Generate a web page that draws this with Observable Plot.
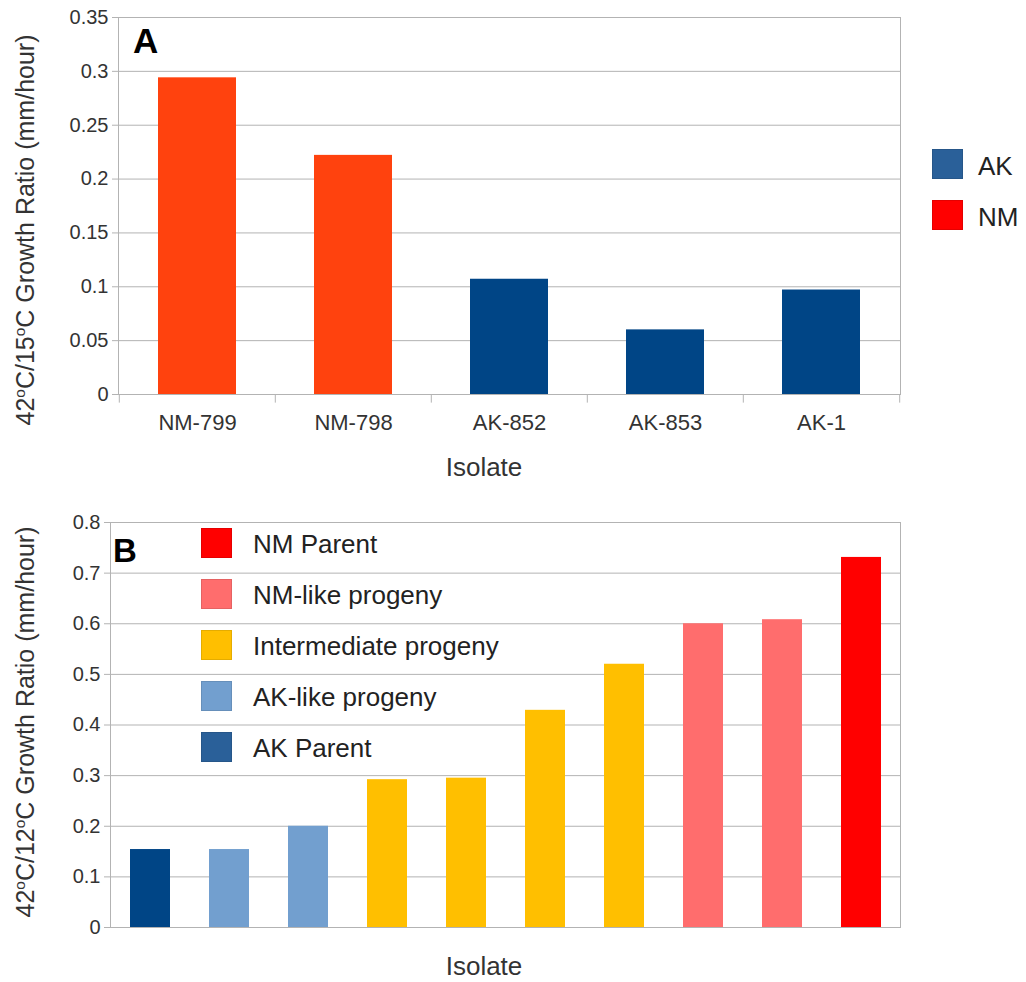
<!DOCTYPE html>
<html>
<head>
<meta charset="utf-8">
<script src="https://cdn.jsdelivr.net/npm/d3@7"></script>
<script src="https://cdn.jsdelivr.net/npm/@observablehq/plot@0.6"></script>
<style>
  html, body { margin: 0; padding: 0; background: #ffffff; }
  #root { position: relative; width: 1026px; height: 982px; overflow: hidden; font-family: "Liberation Sans", Arial, sans-serif; color: #333; }
  .abs { position: absolute; white-space: nowrap; line-height: 1; }
  .ytitle { position: absolute; white-space: nowrap; line-height: 1; font-size: 25px; color: #333; transform: translate(-50%, -50%) rotate(-90deg); }
  .deg { font-size: 0.62em; position: relative; top: -0.55em; }
  .sw { position: absolute; width: 31px; height: 30px; box-sizing: border-box; }
</style>
</head>
<body>
<div id="root"></div>
<script>
// ---------- Panel A data ----------
const isolatesA = ["NM-799", "NM-798", "AK-852", "AK-853", "AK-1"];
const originA = ["NM", "NM", "AK", "AK", "AK"];
const ratioA = [0.294, 0.222, 0.107, 0.060, 0.097];
const yTicksA = [0, 0.05, 0.1, 0.15, 0.2, 0.25, 0.3, 0.35];
const groupsA = ["AK", "NM"];
const barColorsA = ["#004586", "#ff420e"];
const legendColorsA = ["#2a6099", "#ff0000"];

// ---------- Panel B data ----------
const isolatesB = ["1", "2", "3", "4", "5", "6", "7", "8", "9", "10"];
const groupB = ["AK Parent", "AK-like progeny", "AK-like progeny", "Intermediate progeny", "Intermediate progeny",
                "Intermediate progeny", "Intermediate progeny", "NM-like progeny", "NM-like progeny", "NM Parent"];
const ratioB = [0.154, 0.154, 0.200, 0.292, 0.295, 0.429, 0.520, 0.600, 0.608, 0.731];
const yTicksB = [0, 0.1, 0.2, 0.3, 0.4, 0.5, 0.6, 0.7, 0.8];
const groupsB = ["NM Parent", "NM-like progeny", "Intermediate progeny", "AK-like progeny", "AK Parent"];
const barColorsB = ["#ff0000", "#ff6d6d", "#ffbf00", "#729fcf", "#004586"];
const legendColorsB = ["#ff0000", "#ff6d6d", "#ffbf00", "#729fcf", "#2a6099"];

const dataA = isolatesA.map((d, i) => ({isolate: d, origin: originA[i], ratio: ratioA[i]}));
const dataB = isolatesB.map((d, i) => ({isolate: d, group: groupB[i], ratio: ratioB[i]}));

const GRID = "#b3b3b3";
const root = document.getElementById("root");

// ---------- Panel A ----------
const widthA = 910, mlA = 118, mrA = 10;
const stepA = (widthA - mlA - mrA) / isolatesA.length;
const plotA = Plot.plot({
  width: widthA, height: 440,
  marginLeft: mlA, marginRight: mrA, marginTop: 17, marginBottom: 46,
  style: {fontFamily: "Liberation Sans, Arial, sans-serif", fontSize: "20px", color: "#333", background: "transparent", overflow: "visible"},
  x: {domain: isolatesA, paddingInner: 0.5, paddingOuter: 0.25, label: null},
  y: {domain: [0, 0.35], label: null},
  color: {domain: groupsA, range: barColorsA},
  marks: [
    Plot.gridY(yTicksA, {stroke: GRID, strokeOpacity: 1}),
    Plot.barY(dataA, {x: "isolate", y: "ratio", fill: "origin"}),
    Plot.frame({stroke: GRID, strokeOpacity: 1}),
    Plot.ruleX(isolatesA, {x: d => d, y1: 0, y2: -0.008, dx: -stepA / 2, stroke: GRID, strokeOpacity: 1}),
    Plot.ruleX(isolatesA.slice(-1), {x: d => d, y1: 0, y2: -0.008, dx: stepA / 2, stroke: GRID, strokeOpacity: 1}),
    Plot.axisY(yTicksA, {tickSize: 6, tickPadding: 4, stroke: GRID, strokeOpacity: 1, fill: "#333", tickFormat: d => String(d), label: null, fontSize: 20}),
    Plot.axisX({tickSize: 0, tickPadding: 20, fill: "#333", label: null, fontSize: 22})
  ]
});
plotA.style.position = "absolute";
plotA.style.left = "0px";
plotA.style.top = "0px";
root.appendChild(plotA);

// ---------- Panel B ----------
const plotB = Plot.plot({
  width: 910, height: 482,
  marginLeft: 110, marginRight: 10, marginTop: 22, marginBottom: 55,
  style: {fontFamily: "Liberation Sans, Arial, sans-serif", fontSize: "20px", color: "#333", background: "transparent", overflow: "visible"},
  x: {domain: isolatesB, paddingInner: 0.5, paddingOuter: 0.25, axis: null, label: null},
  y: {domain: [0, 0.8], label: null},
  color: {domain: groupsB, range: barColorsB},
  marks: [
    Plot.gridY(yTicksB, {stroke: GRID, strokeOpacity: 1}),
    Plot.barY(dataB, {x: "isolate", y: "ratio", fill: "group"}),
    Plot.frame({stroke: GRID, strokeOpacity: 1}),
    Plot.axisY(yTicksB, {tickSize: 6, tickPadding: 4, stroke: GRID, strokeOpacity: 1, fill: "#333", tickFormat: d => String(d), label: null, fontSize: 20})
  ]
});
plotB.style.position = "absolute";
plotB.style.left = "0px";
plotB.style.top = "500px";
root.appendChild(plotB);

// ---------- Text overlays ----------
function addText(txt, left, baseline, size, opts = {}) {
  const el = document.createElement("div");
  el.className = "abs";
  el.textContent = txt;
  el.style.fontSize = size + "px";
  el.style.top = (baseline - 0.8465 * size) + "px";
  el.style.left = left + "px";
  if (opts.bold) el.style.fontWeight = "bold";
  el.style.color = opts.color || "#333";
  if (opts.center) el.style.transform = "translateX(-50%)";
  root.appendChild(el);
  return el;
}
function addYTitle(a, cx, cy) {
  const el = document.createElement("div");
  el.className = "ytitle";
  el.innerHTML = `42<span class="deg">o</span>C/${a}<span class="deg">o</span>C Growth Ratio (mm/hour)`;
  el.style.left = cx + "px";
  el.style.top = cy + "px";
  root.appendChild(el);
}
function addSwatch(left, top, color) {
  const el = document.createElement("div");
  el.className = "sw";
  el.style.left = left + "px";
  el.style.top = top + "px";
  el.style.background = color;
  el.style.border = "1px solid " + d3.color(color).darker(0.3);
  root.appendChild(el);
}

// panel letters
addText("A", 133, 53, 35, {bold: true, color: "#000"});
addText("B", 113, 562, 33, {bold: true, color: "#000"});

// axis titles
addYTitle("15", 25, 230);
addYTitle("12", 25, 722);
addText("Isolate", 484, 476, 26, {center: true});
addText("Isolate", 484, 975, 26, {center: true});

// legend A
const legATops = [149, 200];
groupsA.forEach((g, i) => {
  addSwatch(932, legATops[i], legendColorsA[i]);
  addText(g, 978, legATops[i] + 26, 26, {color: "#222"});
});

// legend B
const legBTops = [528, 579, 630, 681, 732];
groupsB.forEach((g, i) => {
  addSwatch(201, legBTops[i], legendColorsB[i]);
  addText(g, 253, legBTops[i] + 25, 26, {color: "#222"});
});
</script>
</body>
</html>
